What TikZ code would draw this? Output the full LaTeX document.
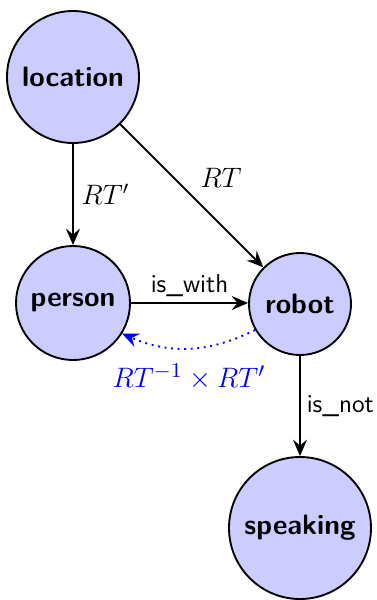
\documentclass[tikz,border=0pt]{standalone}
\usepackage{amsmath,amssymb}
\usepackage{tikz}
\usetikzlibrary{arrows.meta,positioning,calc}
\definecolor{stateFill}{RGB}{204,204,255}
\definecolor{relBlue}{RGB}{0,0,255}

\begin{document}
\begin{tikzpicture}[>={Stealth[length=7pt,width=6pt,inset=2.5pt]}, thick,
    state/.style={draw, circle, fill=stateFill, inner sep=1pt, font=\large\sffamily\bfseries},
    rel/.style={font=\fontsize{11}{13}\sffamily, inner sep=2.5pt}]
  \useasboundingbox (0,0) rectangle (5.655,-9.0);
  % States
  \node[state, minimum size=1.98cm] (location) at (1.095,-1.155) {location};
  \node[state, minimum size=1.71cm] (person) at (1.095,-4.545) {person};
  \node[state, minimum size=1.53cm] (robot) at (4.5,-4.56) {robot};
  \node[state, minimum size=2.13cm] (speaking) at (4.5,-7.92) {speaking};
  % Transforms
  \draw[->] (location) -- (person) node[midway, right, font=\large] {$RT'$};
  \draw[->] (location) -- (robot) node[midway, above right, font=\large] {$RT$};
  \draw[->] (person) -- (person -| robot.west) node[midway, above, rel] {is\_with};
  \draw[->] (robot) -- (speaking) node[midway, right, rel] {is\_not};
  % Composed transform
  \draw[->, relBlue, dotted] (robot.210) to[bend left=25] node[below=3pt, font=\fontsize{13}{15}\selectfont] {$RT^{-1}\times RT'$} (person.-32);
\end{tikzpicture}
\end{document}
